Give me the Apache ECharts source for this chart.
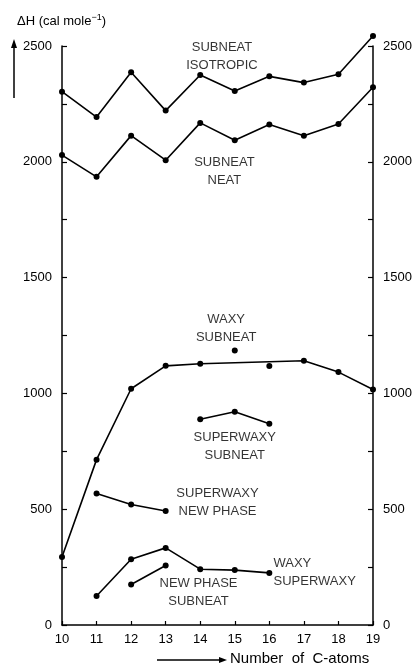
<!DOCTYPE html>
<html>
<head>
<meta charset="utf-8">
<style>
  html, body { margin: 0; padding: 0; background: #fff; }
  #chart { width: 413px; height: 666px; }
</style>
<script src="https://cdn.jsdelivr.net/npm/echarts@6/dist/echarts.min.js"></script>
</head>
<body>
<div id="chart"></div>
<script>
// number of C-atoms on the x axis
var carbons = [10, 11, 12, 13, 14, 15, 16, 17, 18, 19];

// ΔH (cal mole-1)
var subneatIsotropic = [2303, 2193, 2387, 2221, 2375, 2306, 2369, 2342, 2378, 2543];
var subneatNeat = [2029, 1935, 2113, 2007, 2168, 2093, 2161, 2112, 2163, 2322];

var waxySubneatX = [10, 11, 12, 13, 14, 17, 18, 19];
var waxySubneat = [294, 714, 1020, 1119, 1128, 1141, 1092, 1017];
// two points that sit off the waxy/subneat line
var waxySubneatOffX = [15, 16];
var waxySubneatOff = [1185, 1118];

var superwaxySubneatX = [14, 15, 16];
var superwaxySubneat = [888, 921, 869];

var superwaxyNewPhaseX = [11, 12, 13];
var superwaxyNewPhase = [568, 520, 492];

var waxySuperwaxyX = [11, 12, 13, 14, 15, 16];
var waxySuperwaxy = [125, 284, 333, 241, 237, 225];

var newPhaseSubneatX = [12, 13];
var newPhaseSubneat = [175, 257];

// transition names written next to the curves
var noteText = ["SUBNEAT\nISOTROPIC", "SUBNEAT\nNEAT", "WAXY\nSUBNEAT", "SUPERWAXY\nSUBNEAT",
  "SUPERWAXY\nNEW PHASE", "NEW PHASE\nSUBNEAT", "WAXY\nSUPERWAXY"];
var noteAt = [[14.63, 2455], [14.7, 1960], [14.75, 1280], [15.0, 772],
  [14.5, 530], [13.95, 142], [16.12, 228]];

var FONT = "'Liberation Sans', Arial, sans-serif";
var INK = "#000";

function pairs(xs, ys) {
  return xs.map(function (x, i) { return [x, ys[i]]; });
}

function curve(xs, ys) {
  return {
    type: "line",
    data: pairs(xs, ys),
    symbol: "circle",
    symbolSize: 6,
    clip: false,
    lineStyle: { color: INK, width: 1.6 },
    itemStyle: { color: INK },
    silent: true
  };
}

function yAxis(pos) {
  return {
    type: "value",
    position: pos,
    min: 0,
    max: 2500,
    interval: 500,
    axisLine: { show: true, onZero: false, lineStyle: { color: INK, width: 1.5 } },
    axisTick: { show: true, inside: true, length: 5, lineStyle: { color: INK, width: 1.2 } },
    minorTick: { show: true, splitNumber: 2, length: 5, lineStyle: { color: INK, width: 1.2 } },
    axisLabel: {
      color: INK, fontSize: 13, fontFamily: FONT, margin: 10,
      formatter: function (v) { return String(v); }
    },
    splitLine: { show: false },
    minorSplitLine: { show: false }
  };
}

var chart = echarts.init(document.getElementById("chart"));

var notes = noteText.map(function (t, i) {
  var item = { value: noteAt[i], name: t };
  if (i === 6) {
    item.label = { position: "right", distance: 0, align: "left" };
  }
  return item;
});

chart.setOption({
  animation: false,
  textStyle: { fontFamily: FONT },
  grid: { left: 62, right: 40, top: 46, bottom: 41, containLabel: false, outerBoundsMode: "none" },
  xAxis: {
    type: "value",
    min: carbons[0],
    max: carbons[carbons.length - 1],
    interval: 1,
    axisLine: { onZero: false, lineStyle: { color: INK, width: 1.5 } },
    axisTick: { show: true, inside: true, length: 4, lineStyle: { color: INK, width: 1.2 } },
    axisLabel: { color: INK, fontSize: 13, fontFamily: FONT, margin: 8 },
    splitLine: { show: false }
  },
  yAxis: [yAxis("left"), yAxis("right")],
  series: [
    curve(carbons, subneatIsotropic),
    curve(carbons, subneatNeat),
    curve(waxySubneatX, waxySubneat),
    {
      type: "scatter",
      data: pairs(waxySubneatOffX, waxySubneatOff),
      symbolSize: 6,
      itemStyle: { color: INK, opacity: 1 },
      silent: true
    },
    curve(superwaxySubneatX, superwaxySubneat),
    curve(superwaxyNewPhaseX, superwaxyNewPhase),
    curve(waxySuperwaxyX, waxySuperwaxy),
    curve(newPhaseSubneatX, newPhaseSubneat),
    {
      type: "scatter",
      data: notes,
      symbolSize: 0,
      silent: true,
      label: {
        show: true,
        position: "inside",
        formatter: "{b}",
        color: INK,
        fontSize: 13,
        fontFamily: FONT,
        lineHeight: 18
      }
    }
  ],
  graphic: [
    {
      type: "text",
      left: 17,
      top: 13,
      style: {
        text: "ΔH (cal mole{sup|−1})",
        fill: INK,
        fontSize: 13,
        fontFamily: FONT,
        rich: { sup: { fontSize: 9, fill: INK, padding: [0, 0, 8, 0] } }
      }
    },
    { type: "line", shape: { x1: 14, y1: 98, x2: 14, y2: 46 }, style: { stroke: INK, lineWidth: 1.5 } },
    { type: "polygon", shape: { points: [[11, 48], [17, 48], [14, 39]] }, style: { fill: INK } },
    { type: "line", shape: { x1: 157, y1: 660, x2: 222, y2: 660 }, style: { stroke: INK, lineWidth: 1.5 } },
    { type: "polygon", shape: { points: [[219, 657], [219, 663], [227, 660]] }, style: { fill: INK } },
    {
      type: "text",
      left: 230,
      top: 651,
      style: { text: "Number  of  C-atoms", fill: INK, fontSize: 15, fontFamily: FONT }
    }
  ]
});
</script>
</body>
</html>
